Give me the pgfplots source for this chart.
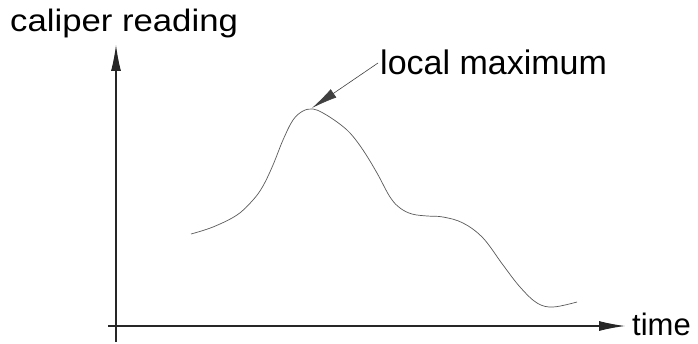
\documentclass[border=0pt]{standalone}
\usepackage{fontspec}
\setmainfont{Liberation Sans}
\newfontfamily\stretchfont[FakeStretch=1.12]{Liberation Sans}
\usepackage{pgfplots}
\pgfplotsset{compat=1.18}
\usetikzlibrary{arrows.meta}
\begin{document}
\begin{tikzpicture}
\path[use as bounding box] (0,0) rectangle (698pt,343pt);
\begin{axis}[
  x=1pt, y=1pt,
  anchor=origin, at={(116pt,17pt)},
  axis lines=middle,
  xmin=-8, xmax=509,
  ymin=-16, ymax=281,
  xtick=\empty, ytick=\empty,
  axis line style={line width=1.1pt, black!85, -{Latex[length=26pt,width=10pt]}},
  clip=false,
]
\addplot[smooth, tension=0.6, line width=0.7pt, black!65] coordinates {
(75,92) (97,99) (121,111) (137,126) (147,140) (157,161) (167,186) (177,206)
(187,215) (197,217) (207,213) (221,204) (234,193) (247,176) (261,153)
(274,129) (284,118) (296,112) (311,110) (327,109) (347,103) (367,88)
(387,61) (404,39) (421,23) (437,19) (461,24)
};
\draw[line width=0.6pt, black!75, -{Latex[length=26pt,width=10pt]}] (axis cs:262,263) -- (axis cs:196,218);
\node[anchor=base west, inner sep=0pt, font=\stretchfont\fontsize{31}{33}\selectfont] at (axis cs:-106,294) {caliper reading};
\node[anchor=base west, inner sep=0pt, font=\fontsize{34}{36}\selectfont] at (axis cs:264,251) {local maximum};
\node[anchor=base west, inner sep=0pt, font=\fontsize{31}{33}\selectfont] at (axis cs:516,-9) {time};
\end{axis}
\end{tikzpicture}
\end{document}
